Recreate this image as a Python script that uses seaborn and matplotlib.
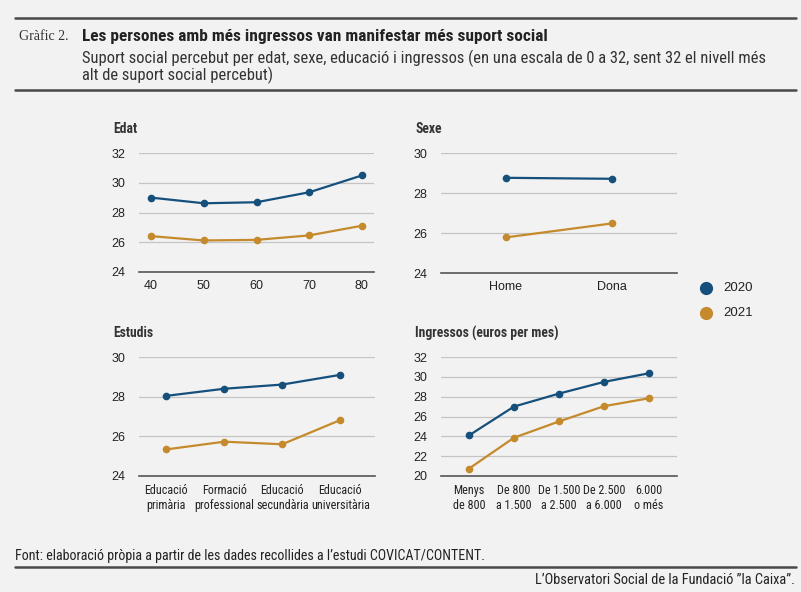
import pandas as pd
import numpy as np
import matplotlib.pyplot as plt
import seaborn as sns
from matplotlib import font_manager

# --- data ---
years = ['2020', '2021']
colors = {'2020': '#15507c', '2021': '#c58a2c'}

edat_x = [40, 50, 60, 70, 80]
edat_2020 = [29.0, 28.62, 28.69, 29.36, 30.49]
edat_2021 = [26.41, 26.12, 26.16, 26.46, 27.11]

sexe_x = ['Home', 'Dona']
sexe_2020 = [28.76, 28.71]
sexe_2021 = [25.78, 26.48]

estudis_x = ['Educació\nprimària', 'Formació\nprofessional', 'Educació\nsecundària', 'Educació\nuniversitària']
estudis_2020 = [28.04, 28.4, 28.61, 29.1]
estudis_2021 = [25.34, 25.73, 25.6, 26.82]

ingr_x = ['Menys\nde 800', 'De 800\na 1.500', 'De 1.500\na 2.500', 'De 2.500\na 6.000', '6.000\no més']
ingr_2020 = [24.09, 27.0, 28.31, 29.49, 30.36]
ingr_2021 = [20.74, 23.86, 25.5, 27.04, 27.84]

BG = '#f2f2f2'
SANS = ['Liberation Sans', 'DejaVu Sans']


# look for a condensed / narrow sans face, fall back to Liberation Sans
def find_narrow(bold=False):
    bad = ['italic', 'oblique', 'light', 'thin', 'semi', 'extra', 'black', 'medium', 'mono', 'serif']
    prefs = ['roboto', 'liberation', 'notosans', 'opensans', 'dejavu', '']
    found = []
    for f in font_manager.fontManager.ttflist:
        fn = f.fname.lower().replace('-', '').replace('_', '')
        base = fn.rsplit('/', 1)[-1]
        if not ('condensed' in base or 'narrow' in base):
            continue
        if any(b in base for b in bad):
            continue
        if ('bold' in base) != bold:
            continue
        found.append(f.fname)
    for p in prefs:
        for fname in found:
            if p in fname.lower().replace('-', '').replace('_', '').rsplit('/', 1)[-1]:
                return fname
    return None


nreg = find_narrow(False)
nbold = find_narrow(True)
HAVE_NARROW = nreg is not None


def nprop(size, bold=False):
    if bold and nbold:
        return font_manager.FontProperties(fname=nbold, size=size)
    if HAVE_NARROW:
        fp = font_manager.FontProperties(fname=nreg, size=size)
        if bold:
            fp.set_weight('bold')
        return fp
    fp = font_manager.FontProperties(family=SANS, size=size * 0.9)
    if bold:
        fp.set_weight('bold')
    return fp


sns.set_theme(style='white')
plt.rcParams['font.family'] = SANS

W, H = 801, 592
fig = plt.figure(figsize=(W / 100, H / 100), dpi=100, facecolor=BG)


def px_axes(x0, y0, x1, y1):
    return fig.add_axes([x0 / W, 1 - y1 / H, (x1 - x0) / W, (y1 - y0) / H])


def make_df(xs, v20, v21):
    return pd.DataFrame({
        'x': list(xs) * 2,
        'val': list(v20) + list(v21),
        'year': ['2020'] * len(xs) + ['2021'] * len(xs),
    })


def panel(box, xs, v20, v21, ylim, yticks, xlim, title):
    ax = px_axes(*box)
    ax.set_facecolor(BG)
    df = make_df(xs, v20, v21)
    sns.lineplot(data=df, x='x', y='val', hue='year', palette=colors, marker='o',
                 markersize=5.5, markeredgewidth=0, linewidth=1.6, sort=False,
                 legend=False, ax=ax, zorder=3)
    ax.set_ylim(*ylim)
    ax.set_yticks(yticks)
    ax.set_xlim(*xlim)
    ax.grid(axis='y', color='#c4c4c4', linewidth=0.9, zorder=0)
    for s in ['top', 'right', 'left']:
        ax.spines[s].set_visible(False)
    ax.spines['bottom'].set_color('#555555')
    ax.spines['bottom'].set_linewidth(1.2)
    ax.tick_params(axis='both', length=0, labelsize=9, colors='#222222')
    ax.tick_params(axis='y', pad=10)
    ax.tick_params(axis='x', pad=6)
    ax.set_xlabel('')
    ax.set_ylabel('')
    ax.text(-0.11, 1.2, title, transform=ax.transAxes, fontproperties=nprop(9.8, bold=True),
            color='#333333', ha='left', va='center')
    return ax


ax1 = panel((139, 153, 374, 272), edat_x, edat_2020, edat_2021,
            (24, 32), [24, 26, 28, 30, 32], (37.7, 82.3), 'Edat')
ax1.set_xticks(edat_x)

ax2 = panel((441, 153, 677, 273), sexe_x, sexe_2020, sexe_2021,
            (24, 30), [24, 26, 28, 30], (-0.61, 1.61), 'Sexe')

ax3 = panel((139, 357, 375, 476), estudis_x, estudis_2020, estudis_2021,
            (24, 30), [24, 26, 28, 30], (-0.47, 3.6), 'Estudis')

ax4 = panel((441, 357, 677, 476), ingr_x, ingr_2020, ingr_2021,
            (20, 32), [20, 22, 24, 26, 28, 30, 32], (-0.62, 4.62), 'Ingressos (euros per mes)')

for ax in (ax3, ax4):
    for lab in ax.get_xticklabels():
        lab.set_fontproperties(nprop(8.7))
        lab.set_linespacing(1.15)

# legend
for yr, ypx in zip(years, [288, 313]):
    fig.lines.append(plt.Line2D([706 / W], [1 - ypx / H], marker='o', markersize=9.5,
                                markeredgewidth=0, color=colors[yr],
                                transform=fig.transFigure, figure=fig))
    fig.text(723 / W, 1 - ypx / H, yr, fontsize=9.5, color='#222222', va='center', ha='left')

# header rules and titles
for ypx in [18, 90, 567]:
    fig.lines.append(plt.Line2D([15 / W, 796 / W], [1 - ypx / H] * 2, color='#4a4a4a',
                                linewidth=1.8, transform=fig.transFigure, figure=fig))

fig.text(19 / W, 1 - 36 / H, 'Gràfic 2.', family=['Liberation Serif', 'DejaVu Serif'],
         fontsize=10, color='#333333', va='center')
fig.text(82 / W, 1 - 36 / H, 'Les persones amb més ingressos van manifestar més suport social',
         fontproperties=nprop(12.4, bold=True), color='#222222', va='center')
fig.text(82 / W, 1 - 58 / H,
         'Suport social percebut per edat, sexe, educació i ingressos (en una escala de 0 a 32, sent 32 el nivell més',
         fontproperties=nprop(11.9), color='#333333', va='center')
fig.text(82 / W, 1 - 75 / H, 'alt de suport social percebut)',
         fontproperties=nprop(11.9), color='#333333', va='center')

# footer
fig.text(15 / W, 1 - 556 / H,
         'Font: elaboració pròpia a partir de les dades recollides a l’estudi COVICAT/CONTENT.',
         fontproperties=nprop(10.1), color='#222222', va='center')
fig.text(795 / W, 1 - 580 / H, 'L’Observatori Social de la Fundació ”la Caixa”.',
         fontproperties=nprop(10.4), color='#222222', va='center', ha='right')

fig.savefig('out.png', dpi=100, facecolor=BG)
